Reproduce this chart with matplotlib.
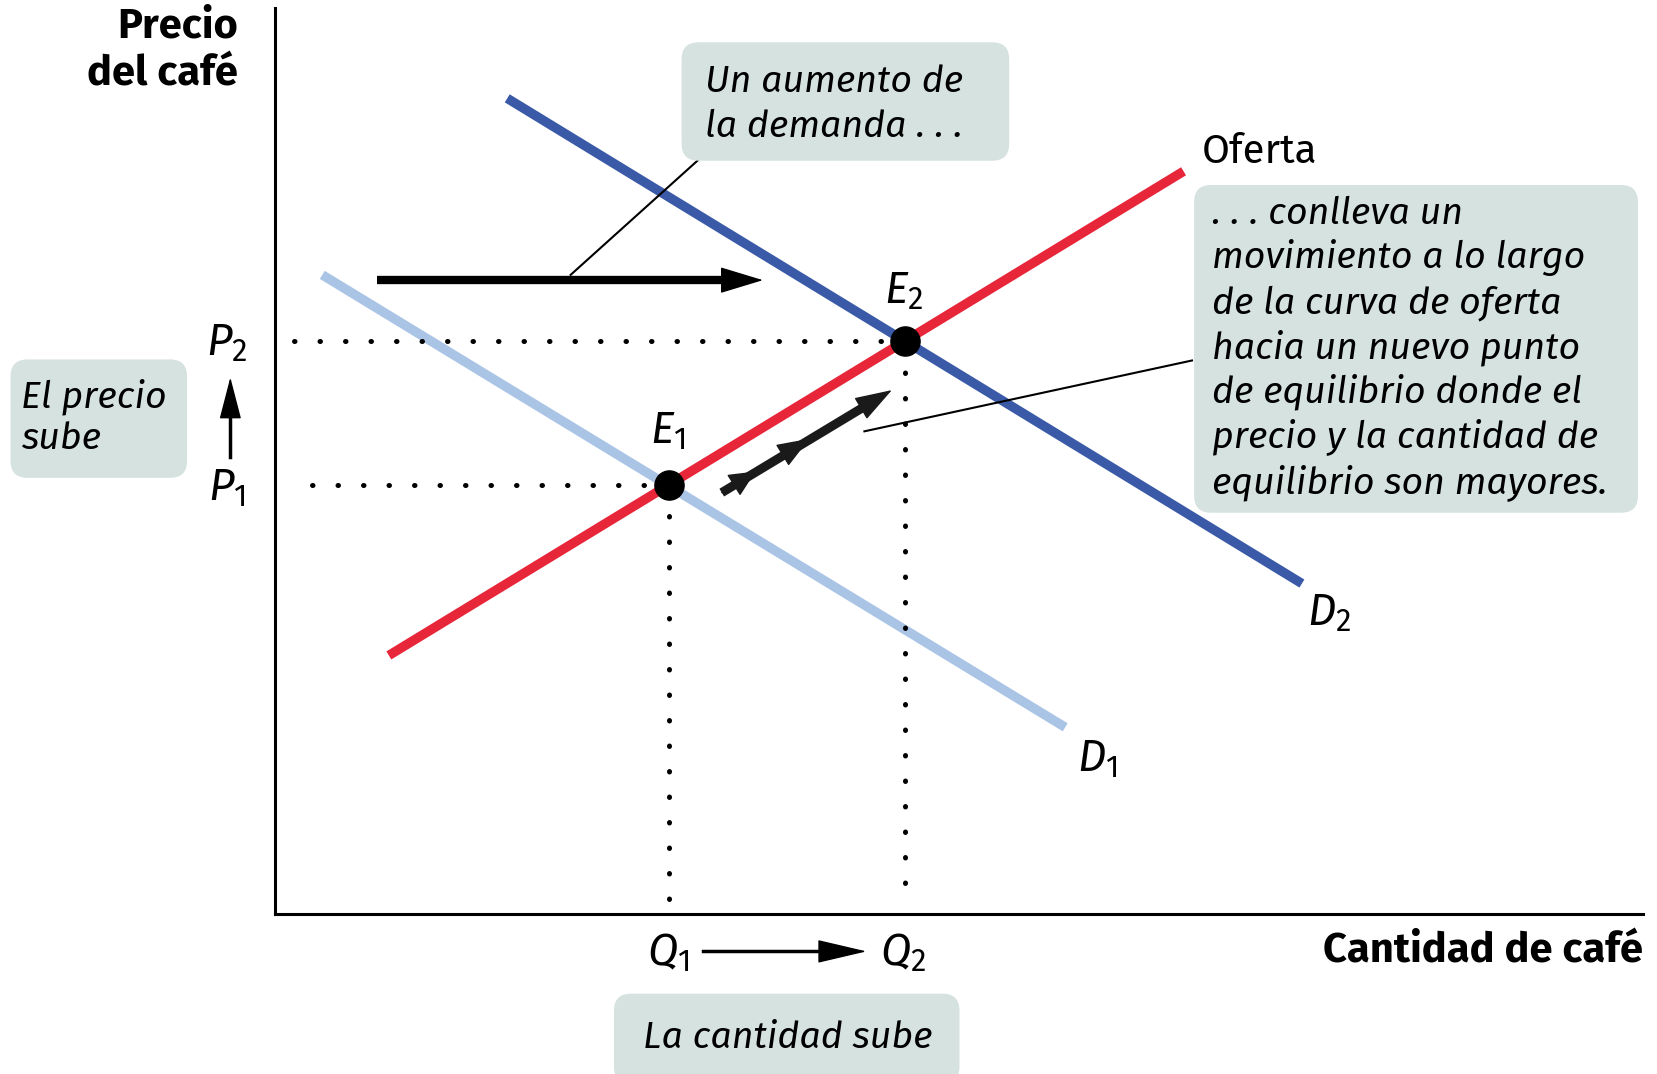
import matplotlib.pyplot as plt
from matplotlib.patches import FancyBboxPatch

FONT = ['Fira Sans', 'DejaVu Sans']
plt.rcParams['font.family'] = FONT
plt.rcParams['mathtext.fontset'] = 'custom'
plt.rcParams['mathtext.rm'] = 'Fira Sans'
plt.rcParams['mathtext.it'] = 'Fira Sans:italic'
plt.rcParams['mathtext.bf'] = 'Fira Sans:bold'

# curves (quantity, price) end points
d2_q = [2.20, 9.72]
d2_p = [7.72, 3.13]
d1_q = [0.45, 7.48]
d1_p = [6.05, 1.77]
s_q = [1.08, 8.60]
s_p = [2.45, 7.03]

# equilibria
eq_q = [3.73, 5.96]
eq_p = [4.06, 5.42]
eq_names = [r'$E_1$', r'$E_2$']

# movement along supply curve (start, two mid heads, tip)
move_q = [4.23, 4.55, 5.06, 5.84]
move_p = [3.99, 4.19, 4.50, 4.96]

BOX = '#d5e2df'
RED = '#e8263a'
DBLUE = '#3a5aa8'
LBLUE = '#aac4e6'
FS = 27

fig = plt.figure(figsize=(16.57, 10.74), dpi=100)
ax = fig.add_axes([0.1658, 0.1486, 0.8259, 0.8435])
ax.set_xlim(0, 12.95)
ax.set_ylim(0, 8.57)
for s in ['top', 'right']:
    ax.spines[s].set_visible(False)
for s in ['left', 'bottom']:
    ax.spines[s].set_linewidth(2.2)
ax.set_xticks([])
ax.set_yticks([])

ax.plot(d1_q, d1_p, color=LBLUE, lw=6.8, solid_capstyle='butt', zorder=2)
ax.plot(d2_q, d2_p, color=DBLUE, lw=6.8, solid_capstyle='butt', zorder=2)
ax.plot(s_q, s_p, color=RED, lw=6.8, solid_capstyle='butt', zorder=3)

# dotted guides
dots = dict(color='black', lw=3.6, linestyle=(0, (0.1, 5.0)), dash_capstyle='round', zorder=4)
ax.plot([0.35, eq_q[0]], [eq_p[0], eq_p[0]], **dots)
ax.plot([0.18, eq_q[1]], [eq_p[1], eq_p[1]], **dots)
ax.plot([eq_q[0], eq_q[0]], [0.15, eq_p[0]], **dots)
ax.plot([eq_q[1], eq_q[1]], [0.30, eq_p[1]], **dots)

ax.plot(eq_q, eq_p, 'o', color='black', ms=21, zorder=6)
ax.text(eq_q[0] - 0.01, eq_p[0] + 0.51, eq_names[0], fontsize=FS + 5, ha='center', va='center')
ax.text(eq_q[1] - 0.01, eq_p[1] + 0.48, eq_names[1], fontsize=FS + 5, ha='center', va='center')

ax.text(8.77, 7.22, 'Oferta', fontsize=FS + 2, ha='left', va='center')
ax.text(9.98, 2.85, r'$D_2$', fontsize=FS + 5, ha='center', va='center')
ax.text(7.78, 1.47, r'$D_1$', fontsize=FS + 5, ha='center', va='center')

# demand shift arrow
ax.plot([0.97, 4.30], [6.00, 6.00], color='black', lw=6, solid_capstyle='butt', zorder=5)
ax.annotate('', xy=(4.62, 6.00), xytext=(4.20, 6.00),
            arrowprops=dict(arrowstyle='-|>,head_length=2.8,head_width=0.85', lw=1, color='black',
                            shrinkA=0, shrinkB=0), zorder=5)

# movement arrow along supply: shaft plus three heads
ax.plot([move_q[0], move_q[3] - 0.15], [move_p[0], move_p[3] - 0.09], color='#1a1a1a', lw=6.5,
        solid_capstyle='butt', zorder=5)
head_len = [1.7, 2.1, 2.4]
for i in range(3):
    ax.annotate('', xy=(move_q[i + 1], move_p[i + 1]), xytext=(move_q[i], move_p[i]),
                arrowprops=dict(arrowstyle=f'-|>,head_length={head_len[i]},head_width=0.8', lw=1,
                                color='#1a1a1a', shrinkA=0, shrinkB=0), zorder=5)

# leader lines
ax.plot([4.00, 2.80], [7.13, 6.05], color='black', lw=1.5, zorder=5)
ax.plot([8.68, 5.58], [5.24, 4.57], color='black', lw=1.5, zorder=5)

# callout boxes
def box(x0, y0, x1, y1):
    p = FancyBboxPatch((x0, y0), x1 - x0, y1 - y0, boxstyle='round,pad=0,rounding_size=0.16',
                       fc=BOX, ec='none', clip_on=False, zorder=7)
    ax.add_patch(p)

box(3.85, 7.13, 6.95, 8.25)
for y, t in zip([7.88, 7.45], ['Un aumento de', 'la demanda . . .']):
    ax.text(4.07, y, t, fontsize=FS, style='italic', ha='left', va='center', zorder=8)

box(8.70, 3.80, 12.90, 6.90)
right_lines = ['. . . conlleva un', 'movimiento a lo largo', 'de la curva de oferta',
               'hacia un nuevo punto', 'de equilibrio donde el', 'precio y la cantidad de',
               'equilibrio son mayores.']
right_y = [6.63, 6.21, 5.78, 5.36, 4.94, 4.52, 4.09]
for y, t in zip(right_y, right_lines):
    ax.text(8.87, y, t, fontsize=FS, style='italic', ha='left', va='center', zorder=8)

box(-2.50, 4.13, -0.83, 5.25)
ax.text(-2.40, 4.90, 'El precio', fontsize=FS, style='italic', ha='left', va='center', zorder=8, clip_on=False)
ax.text(-2.40, 4.50, 'sube', fontsize=FS, style='italic', ha='left', va='center', zorder=8, clip_on=False)

box(3.21, -1.60, 6.48, -0.75)
ax.text(4.85, -1.17, 'La cantidad sube', fontsize=FS, style='italic', ha='center', va='center', zorder=8)

# price labels and arrow
ax.text(-0.45, 5.40, r'$P_2$', fontsize=FS + 5, ha='center', va='center')
ax.text(-0.45, 4.03, r'$P_1$', fontsize=FS + 5, ha='center', va='center')
ax.plot([-0.42, -0.42], [4.33, 4.80], color='black', lw=2.5, clip_on=False)
ax.annotate('', xy=(-0.42, 5.08), xytext=(-0.42, 4.70), annotation_clip=False,
            arrowprops=dict(arrowstyle='-|>,head_length=2.7,head_width=0.7', lw=1, color='black',
                            shrinkA=0, shrinkB=0))

# quantity labels and arrow
ax.text(3.72, -0.37, r'$Q_1$', fontsize=FS + 5, ha='center', va='center')
ax.text(5.95, -0.37, r'$Q_2$', fontsize=FS + 5, ha='center', va='center')
ax.plot([4.05, 5.30], [-0.35, -0.35], color='black', lw=2.5, clip_on=False)
ax.annotate('', xy=(5.60, -0.35), xytext=(5.20, -0.35), annotation_clip=False,
            arrowprops=dict(arrowstyle='-|>,head_length=3.2,head_width=0.75', lw=1, color='black',
                            shrinkA=0, shrinkB=0))

# axis titles
ax.text(12.95, -0.35, 'Cantidad de café', fontsize=FS + 3, fontweight='bold', ha='right', va='center')
ax.text(-0.35, 8.40, 'Precio', fontsize=FS + 3, fontweight='bold', ha='right', va='center')
ax.text(-0.35, 7.95, 'del café', fontsize=FS + 3, fontweight='bold', ha='right', va='center')

fig.savefig('out.png', dpi=100)
